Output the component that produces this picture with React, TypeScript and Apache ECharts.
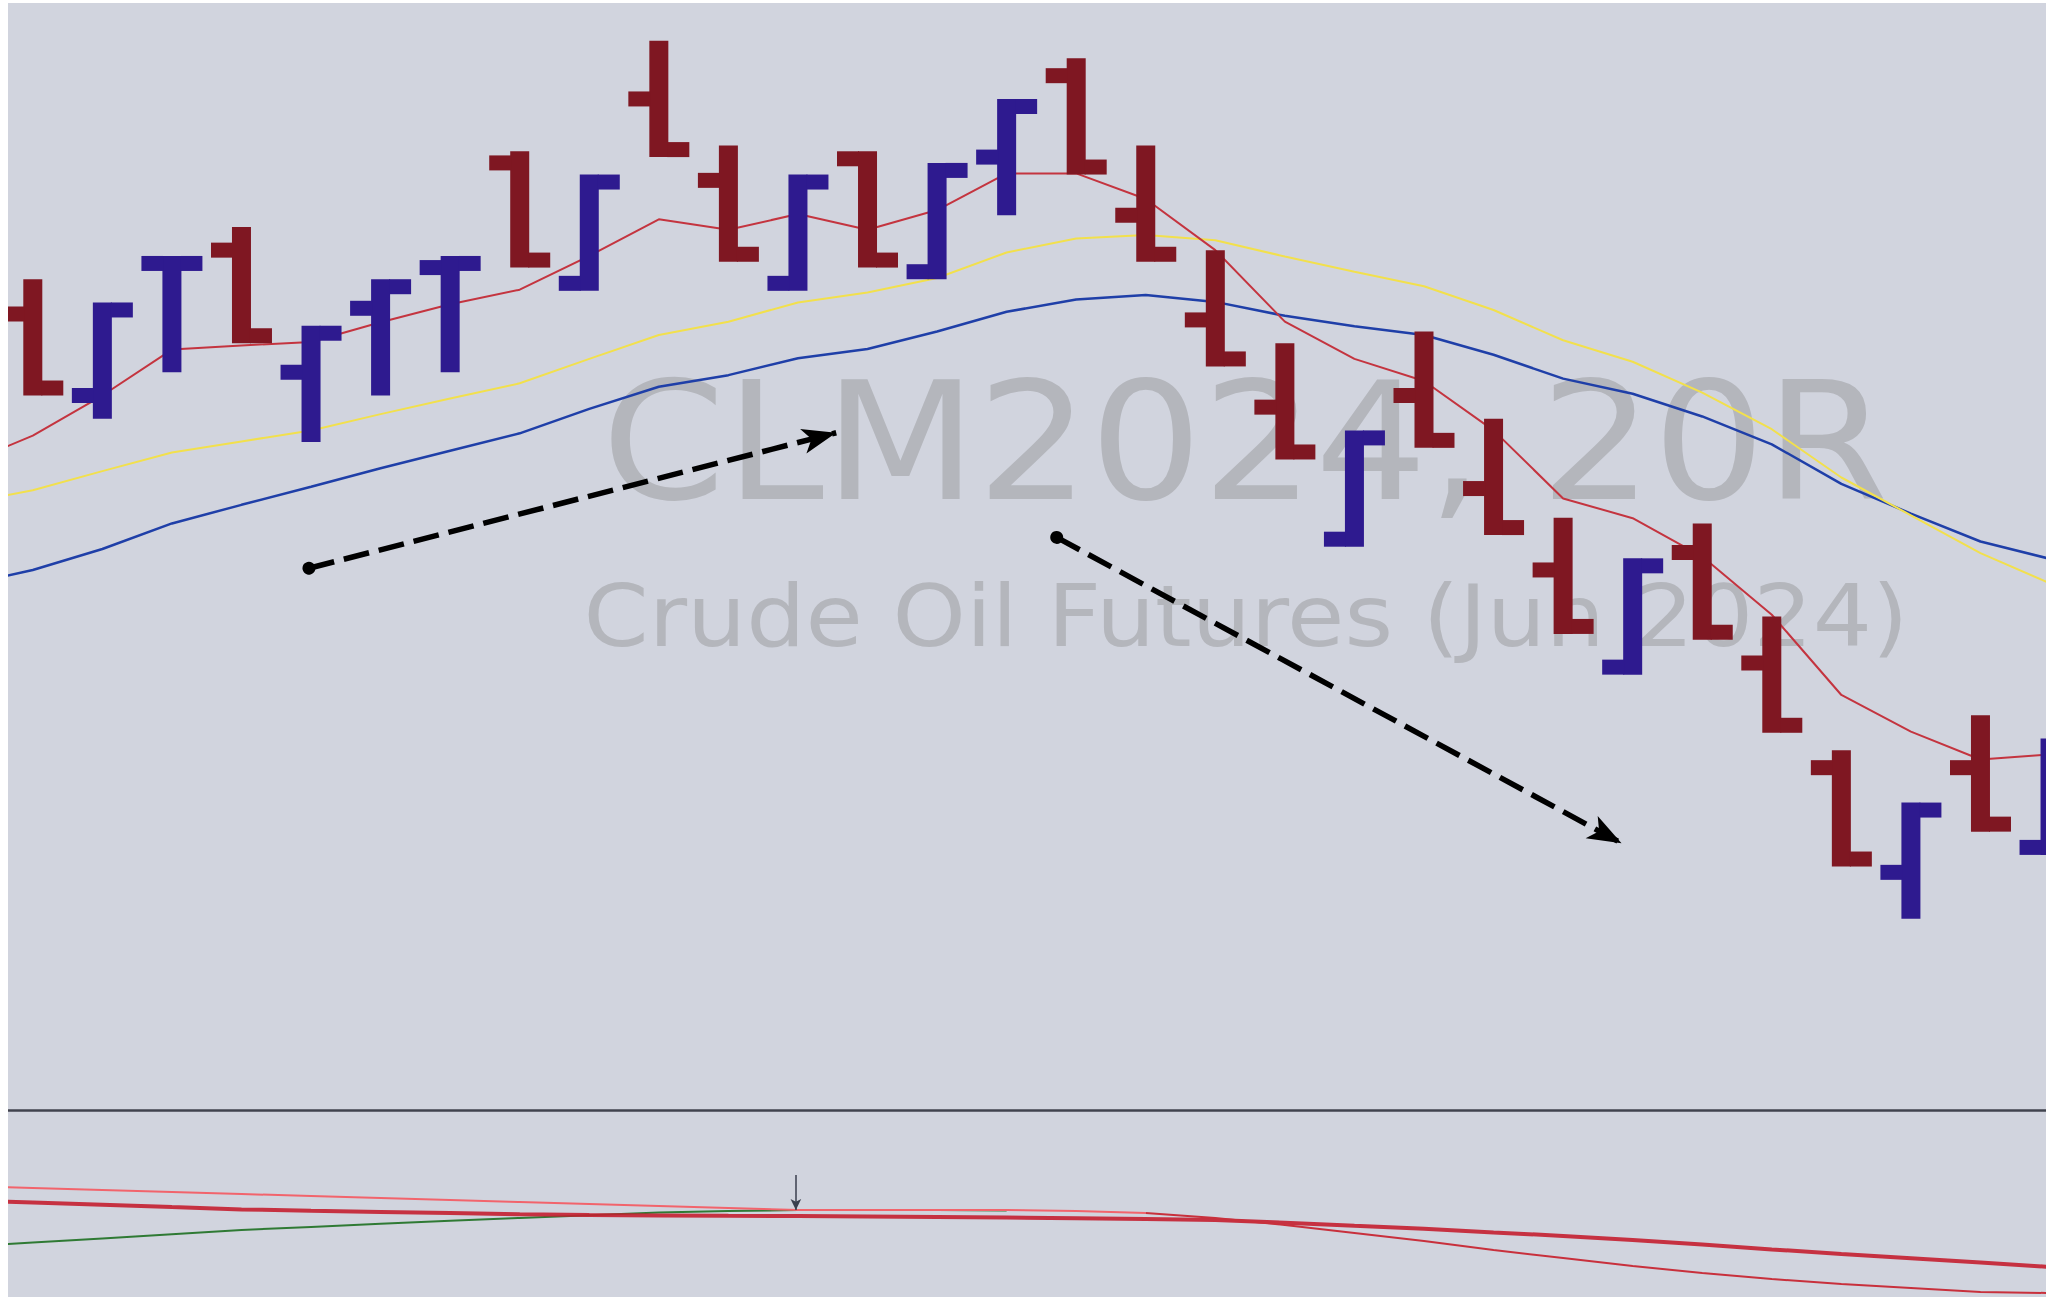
import React, { useEffect, useRef } from 'react';
import * as echarts from 'echarts';

// ---- Range bars (20R), one entry per bar, oldest first ----
const opens = [80.03, 79.89, 80.12, 80.14, 79.93, 80.04, 80.11, 80.29, 80.07, 80.40, 80.26, 80.07, 80.31, 80.09, 80.30, 80.44, 80.20, 80.02, 79.87, 79.63, 79.89, 79.73, 79.59, 79.41, 79.62, 79.43, 79.25, 79.07, 79.25, 79.10];
const highs = [80.09, 80.05, 80.13, 80.18, 80.01, 80.09, 80.13, 80.31, 80.27, 80.50, 80.32, 80.27, 80.31, 80.29, 80.40, 80.47, 80.32, 80.14, 79.98, 79.83, 80.00, 79.85, 79.68, 79.61, 79.67, 79.51, 79.28, 79.19, 79.34, 79.30];
const lows = [79.89, 79.85, 79.93, 79.98, 79.81, 79.89, 79.93, 80.11, 80.07, 80.30, 80.12, 80.07, 80.11, 80.09, 80.20, 80.27, 80.12, 79.94, 79.78, 79.63, 79.80, 79.65, 79.48, 79.41, 79.47, 79.31, 79.08, 78.99, 79.14, 79.10];
const closes = [79.89, 80.05, 80.13, 79.98, 80.01, 80.09, 80.13, 80.11, 80.27, 80.30, 80.12, 80.27, 80.11, 80.29, 80.40, 80.27, 80.12, 79.94, 79.78, 79.83, 79.80, 79.65, 79.48, 79.61, 79.47, 79.31, 79.08, 79.19, 79.14, 79.30];

// ---- Moving averages, from the bar before the first visible bar (index -1) to the last ----
const maRed = [79.771, 79.821, 79.890, 79.969, 79.976, 79.982, 80.016, 80.047, 80.072, 80.130, 80.193, 80.175, 80.202, 80.175, 80.209, 80.272, 80.272, 80.228, 80.140, 80.017, 79.953, 79.915, 79.830, 79.713, 79.679, 79.613, 79.513, 79.375, 79.312, 79.264, 79.273];
const maYellow = [79.704, 79.727, 79.760, 79.792, 79.811, 79.830, 79.858, 79.885, 79.911, 79.953, 79.994, 80.017, 80.050, 80.067, 80.092, 80.136, 80.160, 80.166, 80.157, 80.129, 80.103, 80.078, 80.037, 79.985, 79.948, 79.895, 79.832, 79.749, 79.684, 79.619, 79.567];
const maBlue = [79.563, 79.590, 79.626, 79.670, 79.702, 79.733, 79.765, 79.795, 79.825, 79.867, 79.905, 79.925, 79.954, 79.970, 80.000, 80.034, 80.055, 80.063, 80.051, 80.027, 80.009, 79.994, 79.960, 79.919, 79.893, 79.854, 79.806, 79.738, 79.687, 79.639, 79.609];

// ---- Lower indicator panel (index -1 .. 29) ----
const oscSlow = [0.0082, 0.0032, -0.0017, -0.0067, -0.0116, -0.0146, -0.0172, -0.0196, -0.0219, -0.0239, -0.0245, -0.0252, -0.0258, -0.0269, -0.0280, -0.0293, -0.0306, -0.0323, -0.0342, -0.0404, -0.0469, -0.0531, -0.0611, -0.0686, -0.0772, -0.0873, -0.0976, -0.1075, -0.1168, -0.1260, -0.1355];
const oscFast = [0.0387, 0.0344, 0.0301, 0.0258, 0.0215, 0.0172, 0.0129, 0.0086, 0.0043, 0.0000, -0.0043, -0.0086, -0.0129, -0.0129, -0.0129, -0.0129, -0.0151, -0.0194, -0.0301, -0.0452, -0.0624, -0.0796, -0.0989, -0.1161, -0.1333, -0.1484, -0.1613, -0.1720, -0.1806, -0.1892, -0.1914];
const oscGreen = [-0.0918, -0.0828, -0.0740, -0.0649, -0.0559, -0.0492, -0.0426, -0.0359, -0.0299, -0.0241, -0.0185, -0.0153, -0.0129, -0.0129, -0.0129, -0.0140];
const fastSplit = 17; // position in oscFast where the line turns from pink to red

// ---- Annotations (bar index, price) ----
const trendUp = [[3.97, 79.593], [11.55, 79.826]];
const trendDown = [[14.72, 79.646], [22.84, 79.120]];
const signalMark = [[10.97, 0.0624], [10.97, -0.0129]];

const titleText = 'CLM2024, 20R';
const subtitleText = 'Crude Oil Futures (Jun 2024)';

const X_MIN = -0.3565;
const X_MAX = 28.942;
const Y_MIN = 78.6613;
const Y_MAX = 80.565;

const RED = '#7f1722';
const BLUE = '#2e1a8f';

const W = 2038;
const H = 1294;

function withIndex(values: number[], start: number) {
  return values.map((v, i) => [i + start, v]);
}

function buildOption() {
  const ohlc = opens.map((o, i) => [i, o, closes[i], lows[i], highs[i]]);
  const fastPts = withIndex(oscFast, -1);

  const renderItem = (params: any, api: any) => {
    const x = api.value(0);
    const o = api.value(1);
    const c = api.value(2);
    const l = api.value(3);
    const h = api.value(4);
    const pH = api.coord([x, h]);
    const pL = api.coord([x, l]);
    const yO = api.coord([x, o])[1];
    const yC = api.coord([x, c])[1];
    const cx = pH[0];
    const vw = 19;
    const tl = 21;
    const th = 15;
    const clamp = (y: number) => Math.min(Math.max(y, pH[1] + th / 2), pL[1] - th / 2);
    const color = c >= o ? BLUE : RED;
    return {
      type: 'group',
      children: [
        { type: 'rect', shape: { x: cx - vw / 2, y: pH[1], width: vw, height: pL[1] - pH[1] }, style: { fill: color } },
        { type: 'rect', shape: { x: cx - vw / 2 - tl, y: clamp(yO) - th / 2, width: tl + 1, height: th }, style: { fill: color } },
        { type: 'rect', shape: { x: cx + vw / 2 - 1, y: clamp(yC) - th / 2, width: tl + 1, height: th }, style: { fill: color } },
      ],
    };
  };

  const arrowLine = (pts: number[][]) => [
    { coord: pts[0], symbol: 'circle', symbolSize: 13 },
    { coord: pts[1], symbol: 'arrow', symbolSize: [19, 34] },
  ];

  return {
    animation: false,
    backgroundColor: '#d1d4de',
    grid: [
      { left: 0, right: 0, top: 0, height: 1107 },
      { left: 0, right: 0, top: 1108, bottom: 0 },
    ],
    xAxis: [
      {
        type: 'value', gridIndex: 0, min: X_MIN, max: X_MAX,
        axisLine: { show: true, onZero: false, lineStyle: { color: '#40434e', width: 2.5 } },
        axisTick: { show: false }, axisLabel: { show: false }, splitLine: { show: false },
      },
      {
        type: 'value', gridIndex: 1, min: X_MIN, max: X_MAX, show: false,
        splitLine: { show: false },
      },
    ],
    yAxis: [
      { type: 'value', gridIndex: 0, min: Y_MIN, max: Y_MAX, show: false, splitLine: { show: false } },
      { type: 'value', gridIndex: 1, min: -0.2, max: 0.2, show: false, splitLine: { show: false } },
    ],
    graphic: {
      elements: [
        {
          type: 'text', x: 1237, y: 439, z: 0, silent: true, scaleX: 1.08,
          style: {
            text: titleText, fontSize: 164, fontFamily: 'DejaVu Sans', fill: '#b4b6bc',
            align: 'center', verticalAlign: 'middle', textAlign: 'center', textVerticalAlign: 'middle',
          },
        },
        {
          type: 'text', x: 1238, y: 613, z: 0, silent: true, scaleX: 1.085,
          style: {
            text: subtitleText, fontSize: 86, fontFamily: 'DejaVu Sans', fill: '#b4b6bc',
            align: 'center', verticalAlign: 'middle', textAlign: 'center', textVerticalAlign: 'middle',
          },
        },
      ],
    },
    series: [
      {
        name: 'MA slow', type: 'line', xAxisIndex: 0, yAxisIndex: 0, z: 2,
        data: withIndex(maBlue, -1), showSymbol: false, symbol: 'none',
        lineStyle: { color: '#1f3fa8', width: 2.5 },
      },
      {
        name: 'MA mid', type: 'line', xAxisIndex: 0, yAxisIndex: 0, z: 2,
        data: withIndex(maYellow, -1), showSymbol: false, symbol: 'none',
        lineStyle: { color: '#f2e04c', width: 2 },
      },
      {
        name: 'MA fast', type: 'line', xAxisIndex: 0, yAxisIndex: 0, z: 2,
        data: withIndex(maRed, -1), showSymbol: false, symbol: 'none',
        lineStyle: { color: '#c4343f', width: 2 },
      },
      {
        name: 'CLM2024', type: 'custom', xAxisIndex: 0, yAxisIndex: 0, z: 3, clip: true,
        renderItem, data: ohlc,
      },
      {
        name: 'Trend', type: 'line', xAxisIndex: 0, yAxisIndex: 0, z: 10, data: [],
        markLine: {
          silent: true, animation: false,
          label: { show: false },
          lineStyle: { color: '#000000', width: 5.5, type: [26, 10], opacity: 1 },
          itemStyle: { color: '#000000' },
          emphasis: { disabled: true },
          data: [arrowLine(trendUp), arrowLine(trendDown)],
        },
      },
      {
        name: 'Osc green', type: 'line', xAxisIndex: 1, yAxisIndex: 1, z: 2,
        data: withIndex(oscGreen, -1), showSymbol: false, symbol: 'none',
        lineStyle: { color: '#2f7a34', width: 2 },
        markLine: {
          silent: true, animation: false, label: { show: false },
          lineStyle: { color: '#3a3f4e', width: 1.5, type: 'solid' },
          itemStyle: { color: '#3a3f4e' },
          emphasis: { disabled: true },
          data: [[
            { coord: signalMark[0], symbol: 'none' },
            { coord: signalMark[1], symbol: 'arrow', symbolSize: [8, 11] },
          ]],
        },
      },
      {
        name: 'Osc slow', type: 'line', xAxisIndex: 1, yAxisIndex: 1, z: 3,
        data: withIndex(oscSlow, -1), showSymbol: false, symbol: 'none',
        lineStyle: { color: '#c41f30', width: 4, opacity: 0.9 },
      },
      {
        name: 'Osc fast', type: 'line', xAxisIndex: 1, yAxisIndex: 1, z: 4,
        data: fastPts.slice(0, fastSplit + 1), showSymbol: false, symbol: 'none',
        lineStyle: { color: '#f2646c', width: 2 },
      },
      {
        name: 'Osc fast falling', type: 'line', xAxisIndex: 1, yAxisIndex: 1, z: 4,
        data: fastPts.slice(fastSplit), showSymbol: false, symbol: 'none',
        lineStyle: { color: '#c8303c', width: 2 },
      },
    ],
  };
}

export default function App() {
  const ref = useRef<HTMLDivElement>(null);
  useEffect(() => {
    if (!ref.current) return;
    const chart = echarts.init(ref.current, null, { renderer: 'svg' });
    chart.setOption(buildOption() as any);
    return () => chart.dispose();
  }, []);
  return <div ref={ref} style={{ position: 'fixed', left: 8, top: 3, width: W, height: H }} />;
}
